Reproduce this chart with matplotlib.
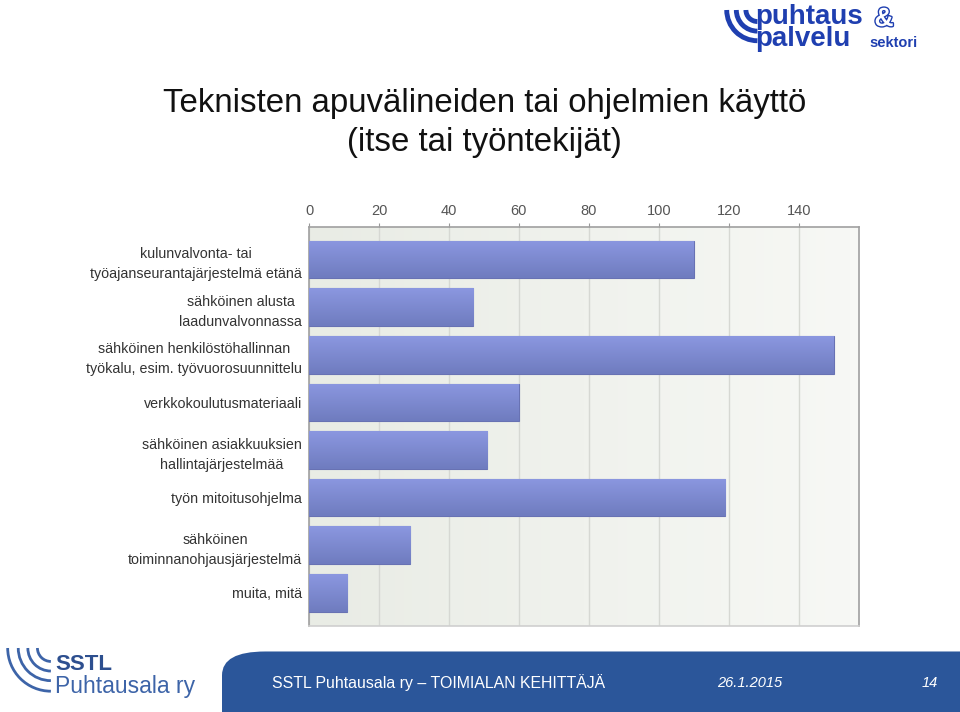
import numpy as np
import matplotlib
matplotlib.use('Agg')
import matplotlib.pyplot as plt
import matplotlib.patheffects as pe
from matplotlib.patches import FancyBboxPatch, Arc

# Данные с графика
categories = [
    'kulunvalvonta- tai\ntyöajanseurantajärjestelmä etänä',
    'sähköinen alusta\nlaadunvalvonnassa',
    'sähköinen henkilöstöhallinnan\ntyökalu, esim. työvuorosuunnittelu',
    'verkkokoulutusmateriaali',
    'sähköinen asiakkuuksien\nhallintajärjestelmää',
    'työn mitoitusohjelma',
    'sähköinen\ntoiminnanohjausjärjestelmä',
    'muita, mitä',
]
values = [110, 47, 150, 60, 51, 119, 29, 11]
xticks = [0, 20, 40, 60, 80, 100, 120, 140]

plt.rcParams['font.family'] = ['Liberation Sans', 'DejaVu Sans']

fig = plt.figure(figsize=(9.6, 7.12), dpi=100)
ax = fig.add_axes([309 / 960, 0.1212, 550 / 960, 0.5596])

xmax = 157.2
y = np.arange(len(values))
bar_h = 0.79
bars = ax.barh(y, values, height=bar_h, color='#7b87cc', edgecolor='#6872b3',
               linewidth=0.8, zorder=3)

# градиент на барах
grad = np.linspace(0, 1, 64).reshape(-1, 1)
cmap_bar = matplotlib.colors.LinearSegmentedColormap.from_list('b', ['#8b97e0', '#6f7cbf'])
for b in bars:
    x0, y0 = b.get_x(), b.get_y()
    w, h = b.get_width(), b.get_height()
    im = ax.imshow(grad, cmap=cmap_bar, aspect='auto', extent=(x0, x0 + w, y0 + h, y0),
                   zorder=3.5, interpolation='bilinear')
    im.set_clip_path(b)

# фон области графика
bg = np.linspace(0, 1, 64).reshape(1, -1)
cmap_bg = matplotlib.colors.LinearSegmentedColormap.from_list('g', ['#e9ece5', '#f7f8f5'])
ax.imshow(bg, cmap=cmap_bg, aspect='auto', extent=(0, xmax, len(values) - 0.31, -0.68),
          zorder=0)

ax.set_xlim(0, xmax)
ax.set_ylim(len(values) - 1 + 0.69, -0.68)
ax.set_xticks(xticks)
ax.xaxis.tick_top()
ax.tick_params(axis='x', colors='#999999', labelcolor='#555555', labelsize=10.5,
               length=3, direction='out', pad=4)
ax.set_yticks(y)
ax.set_yticklabels(categories, fontsize=10.3, color='#333333', multialignment='center',
                   linespacing=1.55)
ax.tick_params(axis='y', length=0, pad=5)
ax.grid(axis='x', color='#d6d8d3', linewidth=1, zorder=1)
for s in ['top', 'left', 'right']:
    ax.spines[s].set_color('#a0a0a0')
    ax.spines[s].set_linewidth(1.2)
ax.spines['bottom'].set_color('#cfcfcf')
ax.spines['bottom'].set_linewidth(1.2)

# заголовок
fig.text(0.505, 0.855, 'Teknisten apuvälineiden tai ohjelmien käyttö', ha='center',
         va='center', fontsize=23.8, color='#111111')
fig.text(0.505, 0.8, '(itse tai työntekijät)', ha='center', va='center',
         fontsize=23.8, color='#111111')

# нижняя плашка
foot = FancyBboxPatch((222 / 960, -0.05), 1.0, 0.135, transform=fig.transFigure,
                      boxstyle='round,pad=0,rounding_size=0.045', facecolor='#2b569a',
                      edgecolor='none', mutation_aspect=712 / 960)
fig.patches.append(foot)
fig.text(272 / 960, 1 - 683 / 712, 'SSTL Puhtausala ry – TOIMIALAN KEHITTÄJÄ',
         color='white', fontsize=11.4, va='center')
fig.text(717 / 960, 1 - 683 / 712, '26.1.2015', color='white', fontsize=10.5,
         va='center', style='italic')
fig.text(922 / 960, 1 - 683 / 712, '14', color='white', fontsize=10.5,
         va='center', style='italic')

# логотип слева внизу
fig.text(55 / 960, 1 - 664 / 712, 'SSTL', color='#2d4f8f', fontsize=16,
         fontweight='bold', va='center')
fig.text(55 / 960, 1 - 687 / 712, 'Puhtausala ry', color='#3d64a8', fontsize=16.5,
         va='center')
for r in [0.014, 0.024, 0.034, 0.045]:
    fig.patches.append(Arc((0.053, 1 - 648 / 712), r * 2, r * 2 * 960 / 712,
                           theta1=180, theta2=270, transform=fig.transFigure,
                           color='#3d64a8', linewidth=2))

# логотип справа вверху
fig.text(755 / 960, 1 - 28 / 712, 'puhtaus\npalvelu', color='#1f3fb0', fontsize=20,
         fontweight='bold', va='center', linespacing=0.85)
fig.text(884 / 960, 1 - 19 / 712, '&', color='white', fontsize=19, fontweight='bold',
         ha='center', va='center',
         path_effects=[pe.withStroke(linewidth=2, foreground='#1f3fb0')])
fig.text(869 / 960, 1 - 43 / 712, 'sektori', color='#1f3fb0', fontsize=10.5,
         fontweight='bold', va='center')
for r in [0.012, 0.022, 0.032]:
    fig.patches.append(Arc((0.789, 1 - 10 / 712), r * 2, r * 2 * 960 / 712,
                           theta1=180, theta2=270, transform=fig.transFigure,
                           color='#1f3fb0', linewidth=3.5))

fig.savefig('out.png', dpi=100, facecolor='white')
